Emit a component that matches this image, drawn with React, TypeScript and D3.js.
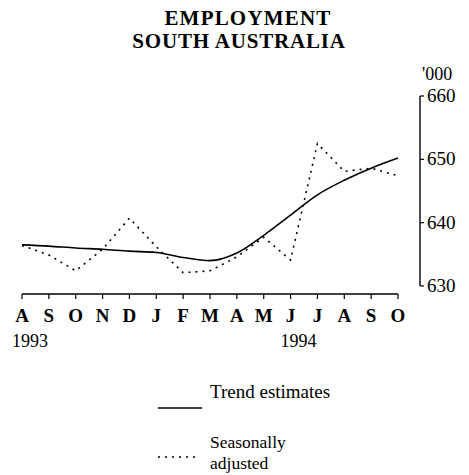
import React from "react";
import * as d3 from "d3";

const months = ["A", "S", "O", "N", "D", "J", "F", "M", "A", "M", "J", "J", "A", "S", "O"];
const trend = [636.5, 636.3, 636.0, 635.8, 635.5, 635.3, 634.5, 634.0, 635.2, 638.0, 641.2, 644.4, 646.7, 648.6, 650.2];
const seasonal = [636.4, 634.9, 632.4, 635.8, 640.7, 636.2, 632.1, 632.4, 634.6, 637.7, 634.1, 652.5, 648.1, 648.6, 647.4];
const yTicks = [630, 640, 650, 660];
const years = [{ label: "1993", idx: 0 }, { label: "1994", idx: 10 }];

const W = 469;
const H = 475;
const serif = "'Liberation Serif', 'DejaVu Serif', serif";

export default function App() {
  const idx = months.map((_, i) => i);
  const x = d3.scalePoint<number>().domain(idx).range([22, 398]);
  const y = d3.scaleLinear().domain([630, 660]).range([286, 96]);

  const trendLine = d3
    .line<number>()
    .x((_, i) => x(i)!)
    .y((d) => y(d))
    .curve(d3.curveMonotoneX);
  const saLine = d3
    .line<number>()
    .x((_, i) => x(i)!)
    .y((d) => y(d))
    .curve(d3.curveLinear);

  const axisY = 294;
  const yAxisX = 420;

  return (
    <svg
      width={W}
      height={H}
      style={{ position: "absolute", left: 0, top: 0, background: "#fff" }}
      fontFamily={serif}
    >
      <rect x={0} y={0} width={W} height={H} fill="#fff" />
      {/* title */}
      <text x={248} y={25} textAnchor="middle" fontSize={21} fontWeight="bold" letterSpacing={1.2}>
        EMPLOYMENT
      </text>
      <text x={239} y={48} textAnchor="middle" fontSize={21} fontWeight="bold" letterSpacing={0.8}>
        SOUTH AUSTRALIA
      </text>

      {/* y axis */}
      <text x={422} y={80} fontSize={18}>'000</text>
      <line x1={yAxisX} x2={yAxisX} y1={y(660)} y2={y(630)} stroke="#000" strokeWidth={1.4} />
      {yTicks.map((t) => (
        <g key={t}>
          <line x1={yAxisX} x2={yAxisX + 4} y1={y(t)} y2={y(t)} stroke="#000" strokeWidth={1.2} />
          <text x={427} y={y(t) + 6} fontSize={19}>
            {t}
          </text>
        </g>
      ))}

      {/* x axis */}
      <line x1={x(0)!} x2={x(months.length - 1)!} y1={axisY} y2={axisY} stroke="#000" strokeWidth={1.4} />
      {months.map((m, i) => (
        <g key={i}>
          <line x1={x(i)!} x2={x(i)!} y1={axisY} y2={axisY + 5} stroke="#000" strokeWidth={1.2} />
          <text x={x(i)!} y={322} textAnchor="middle" fontSize={19} fontWeight="bold">
            {m}
          </text>
        </g>
      ))}
      {years.map((yr) => (
        <text key={yr.label} x={x(yr.idx)! - 10} y={347} fontSize={18}>
          {yr.label}
        </text>
      ))}

      {/* series */}
      <path d={saLine(seasonal) || ""} fill="none" stroke="#000" strokeWidth={1.6} strokeDasharray="2,5" />
      <path d={trendLine(trend) || ""} fill="none" stroke="#000" strokeWidth={1.6} />

      {/* legend */}
      <line x1={158} x2={202} y1={408} y2={408} stroke="#000" strokeWidth={1.4} />
      <text x={210} y={398} fontSize={19}>Trend estimates</text>
      <line x1={158} x2={200} y1={457} y2={457} stroke="#000" strokeWidth={1.6} strokeDasharray="2,5" />
      <text x={210} y={448} fontSize={17.5}>Seasonally</text>
      <text x={210} y={469} fontSize={17.5}>adjusted</text>
    </svg>
  );
}
